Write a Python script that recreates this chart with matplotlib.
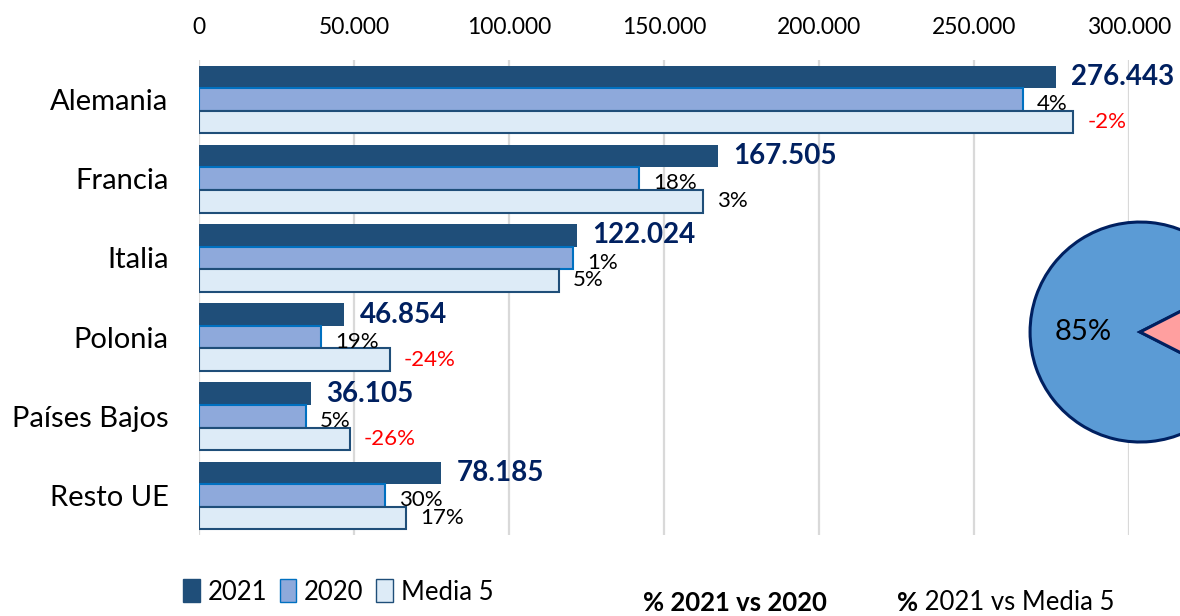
import numpy as np
import matplotlib.pyplot as plt
from matplotlib.patches import Patch
from matplotlib.ticker import FuncFormatter

plt.rcParams['font.family'] = ['Lato', 'DejaVu Sans']

# datos
paises = ['Alemania', 'Francia', 'Italia', 'Polonia', 'Países Bajos', 'Resto UE']
v2021 = [276443, 167505, 122024, 46854, 36105, 78185]
v2020 = [265800, 141950, 120800, 39370, 34390, 60140]
media5 = [282100, 162600, 116200, 61650, 48800, 66830]
pct_2020 = [4, 18, 1, 19, 5, 30]
pct_media = [-2, 3, 5, -24, -26, 17]
x_ticks = [0, 50000, 100000, 150000, 200000, 250000, 300000]

pie_vals = [85, 15]

# colores
c2021 = '#1F4E79'
c2020, e2020 = '#8EA9DB', '#0070C0'
cmed, emed = '#DDEBF7', '#1F4E79'
navy = '#002060'

fig = plt.figure(figsize=(11.8, 6.16), dpi=100)
ax = fig.add_axes([0.1686, 0.1315, 0.7881, 0.7711])

y = np.arange(len(paises))
h = 0.285
ax.barh(y - h, v2021, height=h, color=c2021, zorder=2)
ax.barh(y, v2020, height=h, color=c2020, edgecolor=e2020, linewidth=1.5, zorder=2)
ax.barh(y + h, media5, height=h, color=cmed, edgecolor=emed, linewidth=1.5, zorder=2)

ax.set_xlim(0, 300000)
ax.set_ylim(len(paises) - 0.5, -0.5)
ax.set_yticks(y)
ax.set_yticklabels(paises, fontsize=21)
ax.set_xticks(x_ticks)
ax.xaxis.set_major_formatter(FuncFormatter(lambda v, p: f'{int(v):,}'.replace(',', '.')))
ax.xaxis.tick_top()
ax.tick_params(axis='x', length=0, labelsize=16.5, pad=16)
ax.tick_params(axis='y', length=0, pad=22)
for s in ax.spines.values():
    s.set_visible(False)
ax.xaxis.grid(True, color='#D9D9D9', linewidth=1.6, zorder=0)
ax.set_axisbelow(True)

# etiquetas
for i in range(len(paises)):
    ax.annotate(f'{v2021[i]:,}'.replace(',', '.'), (v2021[i], y[i] - h),
                xytext=(11, 0), textcoords='offset points', va='center',
                fontsize=20, fontweight='bold', color=navy, annotation_clip=False)
    ax.annotate(f'{pct_2020[i]}%', (v2020[i], y[i] + 0.06),
                xytext=(10, 0), textcoords='offset points', va='center',
                fontsize=16, color='black', annotation_clip=False)
    ax.annotate(f'{pct_media[i]}%', (media5[i], y[i] + h),
                xytext=(10, 0), textcoords='offset points', va='center',
                fontsize=16, color='red' if pct_media[i] < 0 else 'black',
                annotation_clip=False)

# leyenda
handles = [Patch(facecolor=c2021, edgecolor=c2021),
           Patch(facecolor=c2020, edgecolor=e2020),
           Patch(facecolor=cmed, edgecolor=emed)]
fig.legend(handles, ['2021', '2020', 'Media 5'], loc='center left',
           bbox_to_anchor=(170 / 1180, 1 - 592 / 616), ncol=3, frameon=False,
           fontsize=18.5, handlelength=0.65, handleheight=1.0,
           handletextpad=0.3, columnspacing=0.5, borderpad=0)

# textos inferiores
fig.text(643 / 1180, 1 - 603 / 616, '% 2021 vs 2020', fontsize=18.5,
         fontweight='bold', va='center')
t = fig.text(897 / 1180, 1 - 603 / 616, '%', fontsize=18.5, fontweight='bold',
             va='center')
ax.annotate(' 2021 vs Media 5', xy=(1, 0.5), xycoords=t, va='center',
            fontsize=18.5)

# tarta
pax = fig.add_axes([0.8496, 0.2378, 0.2331, 0.4464])
pax.pie(pie_vals, colors=['#5B9BD5', '#FF9F9F'], startangle=27,
        autopct=lambda p: f'{p:.0f}%' if p > 50 else '', pctdistance=0.52,
        wedgeprops=dict(edgecolor=navy, linewidth=2.2),
        textprops=dict(fontsize=21, color='black'))

fig.savefig('out.png', dpi=100)
